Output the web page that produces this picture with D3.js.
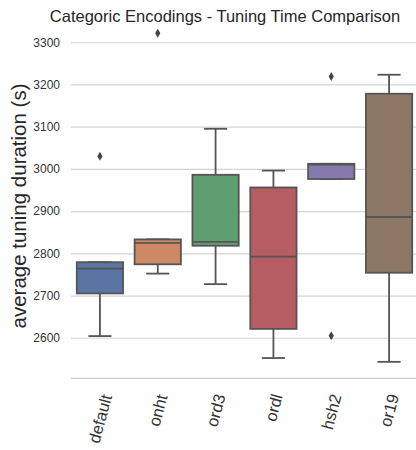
<!DOCTYPE html>
<html>
<head>
<meta charset="utf-8">
<script src="https://cdn.jsdelivr.net/npm/d3@7"></script>
<style>
  html, body { margin: 0; padding: 0; background: #fff; }
  svg { display: block; font-family: "Liberation Sans", Arial, sans-serif; }
</style>
</head>
<body>
<div id="chart"></div>
<script>
const categories = ["default", "onht", "ord3", "ordl", "hsh2", "or19"];
const whiskerLow = [2604, 2752, 2727, 2552, 2976, 2543];
const q1 = [2705, 2774, 2818, 2621, 2976, 2754];
const median = [2764, 2825, 2827, 2792, 3010, 2886];
const q3 = [2779, 2833, 2986, 2956, 3012, 3178];
const whiskerHigh = [2779, 2833, 3095, 2996, 3012, 3223];
const outlierCat = ["default", "onht", "hsh2", "hsh2"];
const outlierVal = [3030, 3321, 3219, 2605];
const yTicks = [2600, 2700, 2800, 2900, 3000, 3100, 3200, 3300];
const colors = ["#5975a4", "#cc8963", "#5f9e6e", "#b55d60", "#857aab", "#8d7866"];

const width = 416;
const height = 450;
const lineColor = "#555555";

const boxes = categories.map((c, i) => ({
  cat: c, lo: whiskerLow[i], q1: q1[i], med: median[i], q3: q3[i], hi: whiskerHigh[i], color: colors[i]
}));
const outliers = outlierCat.map((c, i) => ({cat: c, v: outlierVal[i]}));

const x = d3.scaleBand()
            .domain(categories)
            .range([71, 418])
            .paddingInner(0)
            .paddingOuter(0);

// 2600 -> 337.7, 3300 -> 42
const y = d3.scaleLinear()
            .domain([2504, 3360])
            .range([378.3, 16.9]);

const boxW = x.bandwidth() * 0.8;
const capW = boxW / 2;

const svg = d3.select("#chart")
              .append("svg")
              .attr("width", width)
              .attr("height", height);

//grid + y ticks
const yAxis = d3.axisLeft(y)
                .tickValues(yTicks)
                .tickSize(-(418 - 71))
                .tickPadding(11)
                .tickFormat(d3.format("d"));

const gy = svg.append("g")
   .attr("transform", "translate(71,0)")
   .call(yAxis);
gy.select(".domain").remove();
gy.selectAll(".tick line").attr("stroke", "#d4d4d4").attr("stroke-width", 1.2);
gy.selectAll(".tick text")
  .attr("fill", "#333")
  .style("font-size", "12px")
  .style("font-family", "'Liberation Sans', Arial, sans-serif");

//bottom spine
svg.append("line")
   .attr("x1", 71).attr("x2", 418)
   .attr("y1", y.range()[0]).attr("y2", y.range()[0])
   .attr("stroke", "#cfcfcf")
   .attr("stroke-width", 1.3);

//boxes
const g = svg.append("g")
   .selectAll("g")
   .data(boxes)
   .join("g")
   .attr("transform", d => `translate(${x(d.cat) + x.bandwidth() / 2},0)`);

g.append("line")
 .attr("x1", 0).attr("x2", 0)
 .attr("y1", d => y(d.lo)).attr("y2", d => y(d.q1))
 .attr("stroke", lineColor).attr("stroke-width", 1.8);

g.append("line")
 .attr("x1", 0).attr("x2", 0)
 .attr("y1", d => y(d.q3)).attr("y2", d => y(d.hi))
 .attr("stroke", lineColor).attr("stroke-width", 1.8);

g.append("line")
 .attr("x1", -capW / 2).attr("x2", capW / 2)
 .attr("y1", d => y(d.lo)).attr("y2", d => y(d.lo))
 .attr("stroke", lineColor).attr("stroke-width", 1.8);

g.append("line")
 .attr("x1", -capW / 2).attr("x2", capW / 2)
 .attr("y1", d => y(d.hi)).attr("y2", d => y(d.hi))
 .attr("stroke", lineColor).attr("stroke-width", 1.8);

g.append("rect")
 .attr("x", -boxW / 2)
 .attr("width", boxW)
 .attr("y", d => y(d.q3))
 .attr("height", d => y(d.q1) - y(d.q3))
 .attr("fill", d => d.color)
 .attr("stroke", lineColor)
 .attr("stroke-width", 1.8);

g.append("line")
 .attr("x1", -boxW / 2).attr("x2", boxW / 2)
 .attr("y1", d => y(d.med)).attr("y2", d => y(d.med))
 .attr("stroke", lineColor).attr("stroke-width", 1.8);

//outliers (thin diamonds)
svg.append("g")
   .selectAll("path")
   .data(outliers)
   .join("path")
   .attr("d", "M0,-4.5L2.6,0L0,4.5L-2.6,0Z")
   .attr("transform", d => `translate(${x(d.cat) + x.bandwidth() / 2},${y(d.v)})`)
   .attr("fill", "#444");

//x labels
const xl = svg.append("g")
   .selectAll("text")
   .data(categories)
   .join("text")
   .text(d => d)
   .attr("fill", "#333")
   .style("font-size", "16.5px");

xl.each(function(d) {
  const b = this.getBBox();
  const a = 75 * Math.PI / 180;
  const ext = b.width * Math.sin(a) + b.height * Math.cos(a);
  const cx = x(d) + x.bandwidth() / 2;
  const cy = 392 + ext / 2;
  d3.select(this).attr("transform",
    `translate(${cx},${cy}) rotate(-75) translate(${-(b.x + b.width / 2)},${-(b.y + b.height / 2)})`);
});

//y label
svg.append("text")
   .attr("transform", "translate(26,206) rotate(-90)")
   .attr("text-anchor", "middle")
   .attr("fill", "#262626")
   .style("font-size", "20.5px")
   .text("average tuning duration (s)");

//title
svg.append("text")
   .attr("x", 225)
   .attr("y", 22)
   .attr("text-anchor", "middle")
   .attr("fill", "#262626")
   .style("font-size", "16.5px")
   .text("Categoric Encodings - Tuning Time Comparison");
</script>
</body>
</html>
